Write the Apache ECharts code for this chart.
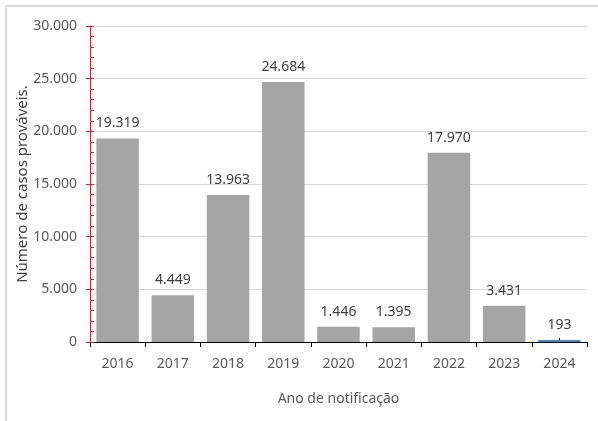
<!DOCTYPE html>
<html>
<head>
<meta charset="utf-8">
<script src="https://cdn.jsdelivr.net/npm/echarts@6/dist/echarts.min.js"></script>
<style>
  html, body { margin: 0; padding: 0; background: #fff; }
  #chart { width: 598px; height: 421px; }
</style>
</head>
<body>
<div id="chart"></div>
<script>
  // dados
  const anos = ['2016', '2017', '2018', '2019', '2020', '2021', '2022', '2023', '2024']
  const casos = [19319, 4449, 13963, 24684, 1446, 1395, 17970, 3431, 193]
  const yTicks = [0, 5000, 10000, 15000, 20000, 25000, 30000]

  const font = 'Noto Sans'
  const fmt = v => String(v).replace(/\B(?=(\d{3})+(?!\d))/g, '.')

  const chart = echarts.init(document.getElementById('chart'))
  chart.setOption({
    animation: false,
    textStyle: { fontFamily: font },
    graphic: [
      // moldura cinza (topo e esquerda)
      { type: 'line', shape: { x1: 6, y1: 6, x2: 598, y2: 6 }, style: { stroke: '#d9d9d9', lineWidth: 2 } },
      { type: 'line', shape: { x1: 6, y1: 6, x2: 6, y2: 421 }, style: { stroke: '#d9d9d9', lineWidth: 2 } }
    ],
    grid: { left: 90, top: 26, right: 11, bottom: 79 },
    xAxis: [{
      type: 'category',
      data: anos,
      name: 'Ano de notificação',
      nameLocation: 'middle',
      nameGap: 50,
      nameTextStyle: { color: '#595959', fontSize: 14, fontFamily: font },
      axisLine: { lineStyle: { color: '#000', width: 1 } },
      axisTick: { show: true, length: 5, lineStyle: { color: '#000' } },
      axisLabel: { color: '#595959', fontSize: 14, margin: 15, fontFamily: font }
    }, {
      // marcas pequenas no centro de cada categoria
      type: 'category',
      data: anos,
      position: 'bottom',
      axisLine: { show: false },
      axisTick: { show: true, inside: true, alignWithLabel: true, length: 4, lineStyle: { color: '#000' } },
      axisLabel: { show: false }
    }],
    yAxis: [{
      type: 'value',
      min: 0,
      max: yTicks[yTicks.length - 1],
      interval: 5000,
      name: 'Número de casos prováveis.',
      nameLocation: 'middle',
      nameGap: 60,
      nameMoveOverlap: false,
      nameTextStyle: { color: '#404040', fontSize: 15, fontFamily: font },
      axisLine: { show: true, lineStyle: { color: '#e0202a', width: 1 } },
      axisTick: { show: true, inside: true, length: 4, lineStyle: { color: '#e0202a' } },
      minorTick: { show: true, splitNumber: 5, length: 4, lineStyle: { color: '#e0202a' } },
      splitLine: { show: true, lineStyle: { color: '#d9d9d9' } },
      axisLabel: { color: '#595959', fontSize: 14, margin: 13, fontFamily: font, formatter: fmt }
    }, {
      // parte externa das marcas principais
      type: 'value',
      min: 0,
      max: yTicks[yTicks.length - 1],
      interval: 5000,
      position: 'left',
      axisLine: { show: false },
      axisTick: { show: true, length: 4, lineStyle: { color: '#e0202a' } },
      splitLine: { show: false },
      axisLabel: { show: false }
    }],
    series: [{
      type: 'bar',
      data: casos.map((v, i) => i === casos.length - 1
        ? { value: v, itemStyle: { color: '#4f81bd' } }
        : v),
      barWidth: '77%',
      itemStyle: { color: '#a5a5a5' },
      label: {
        show: true,
        position: 'top',
        distance: 8,
        color: '#404040',
        fontSize: 14,
        fontFamily: font,
        formatter: p => fmt(p.value)
      }
    }]
  })
</script>
</body>
</html>
